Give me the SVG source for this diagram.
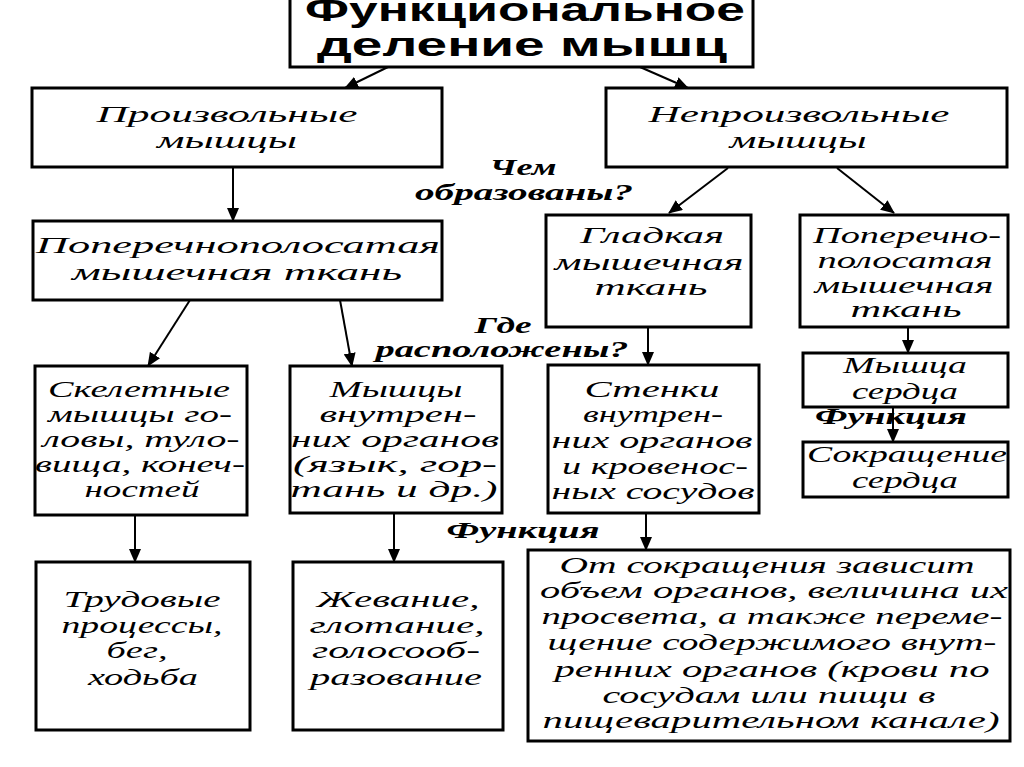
<svg xmlns="http://www.w3.org/2000/svg" width="1024" height="767" viewBox="0 0 1024 767">
<style>
.box{fill:#fff;stroke:#000;stroke-width:3}
.t{font-family:"Liberation Serif","DejaVu Serif",serif;font-style:italic;font-size:24px;fill:#000;text-anchor:middle}
.l{font-family:"Liberation Serif","DejaVu Serif",serif;font-style:italic;font-weight:bold;font-size:24px;fill:#000;text-anchor:middle}
.h{font-family:"Liberation Sans",Arial,sans-serif;font-weight:bold;font-size:34px;fill:#000;text-anchor:middle}
.c{stroke:#000;stroke-width:2;fill:none;marker-end:url(#ah)}
</style>
<defs>
<marker id="ah" markerUnits="userSpaceOnUse" markerWidth="14" markerHeight="12" refX="13" refY="6" orient="auto">
<path d="M0,0 L14,6 L0,12 z" fill="#000"/>
</marker>
</defs>
<rect width="1024" height="767" fill="#fff"/>

<g id="connectors">
<line class="c" x1="388" y1="67" x2="345" y2="88"/>
<line class="c" x1="640" y1="67" x2="688" y2="88"/>
<line class="c" x1="233" y1="167" x2="233" y2="221"/>
<line class="c" x1="728" y1="168" x2="669" y2="213"/>
<line class="c" x1="837" y1="168" x2="894" y2="213"/>
<line class="c" x1="190" y1="300" x2="148" y2="366"/>
<line class="c" x1="340" y1="300" x2="352" y2="366"/>
<line class="c" x1="648" y1="327" x2="648" y2="365"/>
<line class="c" x1="908" y1="327" x2="908" y2="353"/>
<line class="c" x1="893" y1="407" x2="893" y2="442"/>
<line class="c" x1="135" y1="515" x2="135" y2="562"/>
<line class="c" x1="394" y1="513" x2="394" y2="562"/>
<line class="c" x1="646" y1="513" x2="646" y2="550"/>
</g>

<g id="title">
<rect class="box" x="290" y="-5" width="463" height="72"/>
<text class="h" x="525" y="21" textLength="440" lengthAdjust="spacingAndGlyphs">Функциональное</text>
<text class="h" x="522" y="56" textLength="410" lengthAdjust="spacingAndGlyphs">деление мышц</text>
</g>

<g id="voluntary">
<rect class="box" x="32" y="88" width="410" height="79"/>
<text class="t" x="227" y="122" textLength="261" lengthAdjust="spacingAndGlyphs">Произвольные</text>
<text class="t" x="227" y="148" textLength="140" lengthAdjust="spacingAndGlyphs">мышцы</text>
</g>

<g id="involuntary">
<rect class="box" x="606" y="88" width="401" height="79"/>
<text class="t" x="799" y="122" textLength="301" lengthAdjust="spacingAndGlyphs">Непроизвольные</text>
<text class="t" x="798" y="148" textLength="137" lengthAdjust="spacingAndGlyphs">мышцы</text>
</g>

<g id="striated-left">
<rect class="box" x="33" y="221" width="409" height="79"/>
<text class="t" x="238" y="253" textLength="404" lengthAdjust="spacingAndGlyphs">Поперечнополосатая</text>
<text class="t" x="237" y="280" textLength="330" lengthAdjust="spacingAndGlyphs">мышечная ткань</text>
</g>

<g id="smooth">
<rect class="box" x="546" y="215" width="205" height="112"/>
<text class="t" x="652" y="243" textLength="144" lengthAdjust="spacingAndGlyphs">Гладкая</text>
<text class="t" x="649" y="270" textLength="189" lengthAdjust="spacingAndGlyphs">мышечная</text>
<text class="t" x="651" y="295" textLength="113" lengthAdjust="spacingAndGlyphs">ткань</text>
</g>

<g id="striated-right">
<rect class="box" x="800" y="215" width="208" height="112"/>
<text class="t" x="907" y="243" textLength="188" lengthAdjust="spacingAndGlyphs">Поперечно-</text>
<text class="t" x="905" y="268" textLength="175" lengthAdjust="spacingAndGlyphs">полосатая</text>
<text class="t" x="904" y="293" textLength="179" lengthAdjust="spacingAndGlyphs">мышечная</text>
<text class="t" x="906" y="317" textLength="111" lengthAdjust="spacingAndGlyphs">ткань</text>
</g>

<g id="label-what">
<text class="l" x="523" y="175" textLength="67" lengthAdjust="spacingAndGlyphs">Чем</text>
<text class="l" x="524" y="200" textLength="218" lengthAdjust="spacingAndGlyphs">образованы?</text>
</g>

<g id="label-where">
<text class="l" x="503" y="333" textLength="57" lengthAdjust="spacingAndGlyphs">Где</text>
<text class="l" x="502" y="357" textLength="253" lengthAdjust="spacingAndGlyphs">расположены?</text>
</g>

<g id="skeletal">
<rect class="box" x="35" y="366" width="212" height="149"/>
<text class="t" x="139" y="397" textLength="182" lengthAdjust="spacingAndGlyphs">Скелетные</text>
<text class="t" x="140" y="422" textLength="184" lengthAdjust="spacingAndGlyphs">мышцы го-</text>
<text class="t" x="141" y="447" textLength="197" lengthAdjust="spacingAndGlyphs">ловы, туло-</text>
<text class="t" x="140" y="472" textLength="210" lengthAdjust="spacingAndGlyphs">вища, конеч-</text>
<text class="t" x="142" y="497" textLength="115" lengthAdjust="spacingAndGlyphs">ностей</text>
</g>

<g id="internal-organs">
<rect class="box" x="290" y="366" width="212" height="147"/>
<text class="t" x="396" y="397" textLength="133" lengthAdjust="spacingAndGlyphs">Мышцы</text>
<text class="t" x="398" y="422" textLength="157" lengthAdjust="spacingAndGlyphs">внутрен-</text>
<text class="t" x="395" y="447" textLength="208" lengthAdjust="spacingAndGlyphs">них органов</text>
<text class="t" x="395" y="472" textLength="204" lengthAdjust="spacingAndGlyphs">(язык, гор-</text>
<text class="t" x="394" y="497" textLength="207" lengthAdjust="spacingAndGlyphs">тань и др.)</text>
</g>

<g id="walls">
<rect class="box" x="548" y="365" width="211" height="148"/>
<text class="t" x="652" y="397" textLength="135" lengthAdjust="spacingAndGlyphs">Стенки</text>
<text class="t" x="653" y="422" textLength="140" lengthAdjust="spacingAndGlyphs">внутрен-</text>
<text class="t" x="652" y="448" textLength="201" lengthAdjust="spacingAndGlyphs">них органов</text>
<text class="t" x="655" y="474" textLength="186" lengthAdjust="spacingAndGlyphs">и кровенос-</text>
<text class="t" x="653" y="499" textLength="203" lengthAdjust="spacingAndGlyphs">ных сосудов</text>
</g>

<g id="heart-muscle">
<rect class="box" x="803" y="353" width="205" height="54"/>
<text class="t" x="905" y="373" textLength="124" lengthAdjust="spacingAndGlyphs">Мышца</text>
<text class="t" x="905" y="399" textLength="106" lengthAdjust="spacingAndGlyphs">сердца</text>
</g>

<g id="label-function-right">
<text class="l" x="891" y="424" textLength="152" lengthAdjust="spacingAndGlyphs">Функция</text>
</g>

<g id="heart-contraction">
<rect class="box" x="803" y="442" width="205" height="55"/>
<text class="t" x="907" y="462" textLength="200" lengthAdjust="spacingAndGlyphs">Сокращение</text>
<text class="t" x="905" y="488" textLength="106" lengthAdjust="spacingAndGlyphs">сердца</text>
</g>

<g id="label-function-mid">
<text class="l" x="523" y="538" textLength="153" lengthAdjust="spacingAndGlyphs">Функция</text>
</g>

<g id="labour">
<rect class="box" x="36" y="562" width="214" height="168"/>
<text class="t" x="142" y="607" textLength="157" lengthAdjust="spacingAndGlyphs">Трудовые</text>
<text class="t" x="142" y="633" textLength="161" lengthAdjust="spacingAndGlyphs">процессы,</text>
<text class="t" x="137" y="658" textLength="61" lengthAdjust="spacingAndGlyphs">бег,</text>
<text class="t" x="143" y="685" textLength="110" lengthAdjust="spacingAndGlyphs">ходьба</text>
</g>

<g id="chewing">
<rect class="box" x="293" y="562" width="210" height="168"/>
<text class="t" x="398" y="607" textLength="163" lengthAdjust="spacingAndGlyphs">Жевание,</text>
<text class="t" x="397" y="633" textLength="175" lengthAdjust="spacingAndGlyphs">глотание,</text>
<text class="t" x="396" y="658" textLength="168" lengthAdjust="spacingAndGlyphs">голосооб-</text>
<text class="t" x="396" y="685" textLength="172" lengthAdjust="spacingAndGlyphs">разование</text>
</g>

<g id="smooth-function">
<rect class="box" x="528" y="550" width="482" height="191"/>
<text class="t" x="767" y="573" textLength="415" lengthAdjust="spacingAndGlyphs">От сокращения зависит</text>
<text class="t" x="774" y="598" textLength="468" lengthAdjust="spacingAndGlyphs">объем органов, величина их</text>
<text class="t" x="772" y="624" textLength="461" lengthAdjust="spacingAndGlyphs">просвета, а также переме-</text>
<text class="t" x="772" y="650" textLength="449" lengthAdjust="spacingAndGlyphs">щение содержимого внут-</text>
<text class="t" x="772" y="677" textLength="435" lengthAdjust="spacingAndGlyphs">ренних органов (крови по</text>
<text class="t" x="769" y="703" textLength="333" lengthAdjust="spacingAndGlyphs">сосудам или пищи в</text>
<text class="t" x="771" y="728" textLength="457" lengthAdjust="spacingAndGlyphs">пищеварительном канале)</text>
</g>
</svg>
